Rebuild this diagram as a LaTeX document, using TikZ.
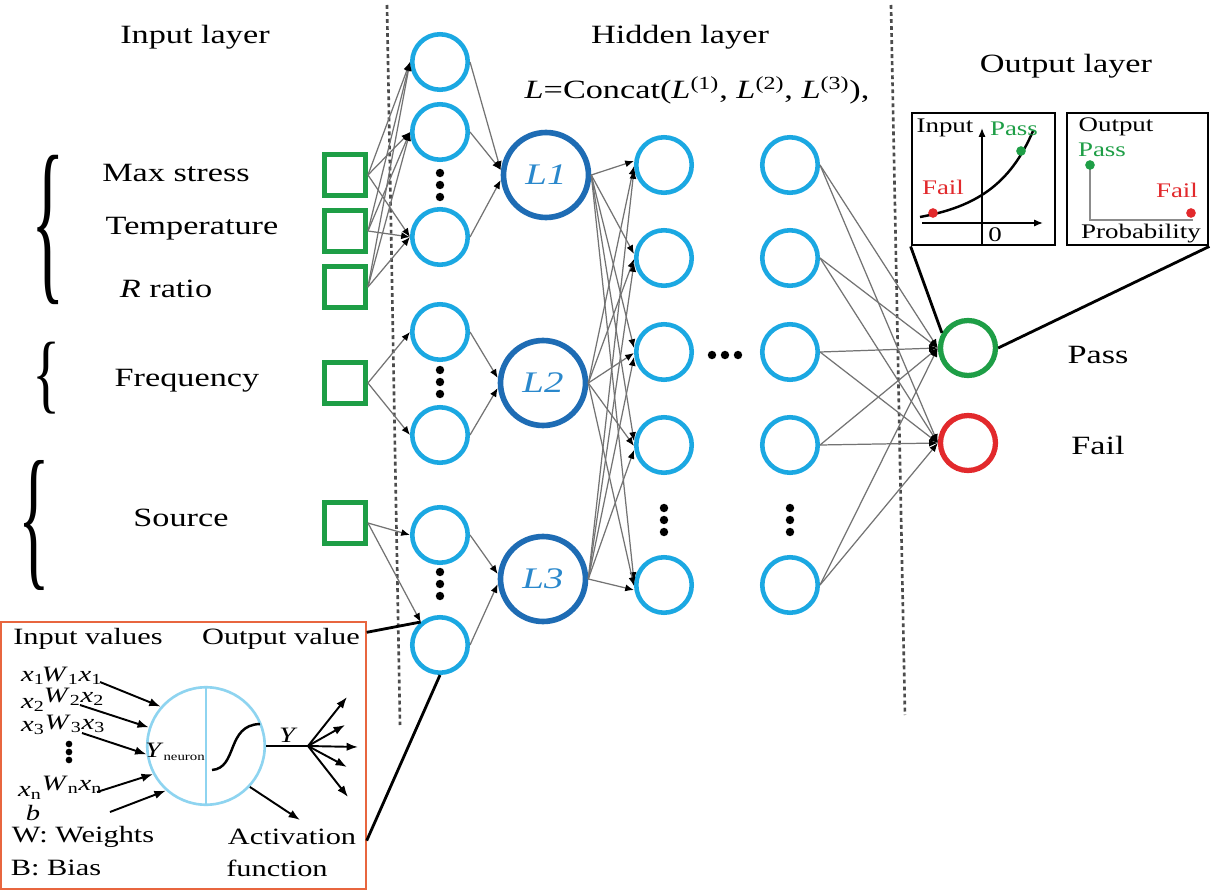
\documentclass[tikz,border=0pt]{standalone}
\usepackage{fontspec}
\usepackage{graphicx}
\setmainfont{Liberation Serif}[FakeStretch=1.3]
\usetikzlibrary{arrows.meta,calc}
\definecolor{cy}{HTML}{1BA8E2}
\definecolor{db}{HTML}{1E6CB4}
\definecolor{gr}{HTML}{1E9E46}
\definecolor{rd}{HTML}{E2292C}
\definecolor{lb}{HTML}{2A88CC}
\definecolor{ib}{HTML}{8ED4F0}
\definecolor{ob}{HTML}{E8663F}
\newcommand\fsz[1]{\fontsize{#1}{#1}\selectfont}
\begin{document}
\begin{tikzpicture}[x=0.02cm,y=-0.02cm,
 hc/.style={circle,draw=cy,line width=2.6pt,minimum size=1.11cm,inner sep=0pt},
 lc/.style={circle,draw=db,line width=3.2pt,minimum size=1.7cm,inner sep=0pt,font=\fsz{17}\itshape,text=lb},
 sq/.style={rectangle,draw=gr,line width=2.8pt,minimum size=0.82cm,inner sep=0pt},
 oc/.style={circle,line width=3pt,minimum size=1.1cm,inner sep=0pt},
 cn/.style={draw=black!55,line width=0.7pt,-{Latex[length=5pt,width=4pt,color=black]}},
 ttl/.style={font=\fsz{15}},
 lab/.style={font=\fsz{15}},
 ins/.style={font=\fsz{13.3}},
 sm/.style={font=\fsz{12.5},inner sep=0pt},
 tiny/.style={font=\fsz{11.8},inner sep=0pt},
 dv/.style={draw=black!70,line width=1.5pt,dash pattern=on 2.2pt off 1.8pt},
 dotc/.style={circle,fill=black,inner sep=0pt,minimum size=4.8pt},
 blk/.style={draw=black,line width=1.6pt},
 arw/.style={draw=black,line width=1.1pt,-{Latex[length=6.5pt,width=4.8pt]}},
 brc/.style={inner sep=0pt}
]
\useasboundingbox (0,0) rectangle (1215,892);
\fill[white] (0,0) rectangle (1215,892);

% dashed separators
\coordinate (da1) at (387,5); \coordinate (da2) at (400,725);
\coordinate (db1) at (891,5); \coordinate (db2) at (905,715);
\draw[dv] (da1) -- (da2);
\draw[dv] (db1) -- (db2);

% titles
\node[ttl] (tin) at (195,37) {Input layer};
\node[ttl] (thid) at (680,37) {Hidden layer};
\node[ttl] (tcat) at (697,90) {\textit{L}=Concat(\textit{L}\textsuperscript{(1)}, \textit{L}\textsuperscript{(2)}, \textit{L}\textsuperscript{(3)}),};
\node[ttl] (tout) at (1066,66) {Output layer};

% braces
\node[brc] (br1) at (48,230) {\resizebox*{19pt}{85pt}{\{}};
\node[brc] (br2) at (47,378) {\resizebox*{16pt}{41pt}{\{}};
\node[brc] (br3) at (34,525) {\resizebox*{18pt}{74pt}{\{}};

% input labels
\node[lab] (lms) at (176,173) {Max stress};
\node[lab] (ltp) at (192,229) {Temperature};
\node[lab] (lrr) at (166,289) {\textit{R} ratio};
\node[lab] (lfq) at (187,381) {Frequency};
\node[lab] (lsr) at (181,518) {Source};

% input squares
\node[sq] (s1) at (345,175) {};
\node[sq] (s2) at (345,231) {};
\node[sq] (s3) at (345,287) {};
\node[sq] (s4) at (345,383) {};
\node[sq] (s5) at (345,523) {};

% first hidden column
\node[hc] (c1) at (440,62) {};
\node[hc] (c2) at (440,132) {};
\node[hc] (c3) at (440,237) {};
\node[hc] (c4) at (440,332) {};
\node[hc] (c5) at (440,435) {};
\node[hc] (c6) at (440,535) {};
\node[hc] (c7) at (440,645) {};
\foreach \yy [count=\k] in {173,185,197} \node[dotc] (pa\k) at (440,\yy) {};
\foreach \yy [count=\k] in {370,382,394} \node[dotc] (pb\k) at (440,\yy) {};
\foreach \yy [count=\k] in {572,584,596} \node[dotc] (pc\k) at (440,\yy) {};

% L nodes
\node[lc] (L1) at (546,175) {L1};
\node[lc] (L2) at (543,383) {L2};
\node[lc] (L3) at (543,579) {L3};

% second and third hidden columns
\foreach \yy [count=\k] in {165,258,352,445,585} {
  \node[hc] (d\k) at (664,\yy) {};
  \node[hc] (e\k) at (790,\yy) {};
}
\foreach \yy [count=\k] in {508,520,532} {
  \node[dotc] (pd\k) at (664,\yy) {};
  \node[dotc] (pe\k) at (790,\yy) {};
}
\foreach \xx [count=\k] in {712,725,738} \node[dotc] (ph\k) at (\xx,355) {};

% outputs
\node[oc,draw=gr] (op) at (968,348) {};
\node[oc,draw=rd] (of) at (968,443) {};
\node[lab] (lpass) at (1098,355) {Pass};
\node[lab] (lfail) at (1098,445) {Fail};

% connections input -> col1
\foreach \s in {s1,s2,s3} \foreach \c in {c1,c2,c3} \draw[cn] (\s.east) -- (\c.west);
\draw[cn] (s4.east) -- (c4.west);
\draw[cn] (s4.east) -- (c5.west);
\draw[cn] (s5.east) -- (c6.west);
\draw[cn] (s5.east) -- (c7.130);

% col1 -> L
\draw[cn] (c1.east) -- ($(L1.west)+(0,-5)$);
\draw[cn] (c2.east) -- ($(L1.west)+(0,-5)$);
\draw[cn] (c3.east) -- ($(L1.west)+(0,5)$);
\draw[cn] (c4.east) -- ($(L2.west)+(0,-5)$);
\draw[cn] (c5.east) -- ($(L2.west)+(0,5)$);
\draw[cn] (c6.east) -- ($(L3.west)+(0,-5)$);
\draw[cn] (c7.east) -- ($(L3.west)+(0,5)$);

% L -> col2
\foreach \k in {1,...,5} {
  \draw[cn] (L1.east) -- ($(d\k.west)+(0,-4)$);
  \draw[cn] (L2.east) -- ($(d\k.west)+(0,1)$);
  \draw[cn] (L3.east) -- ($(d\k.west)+(0,5)$);
}

% col3 -> outputs
\foreach \k in {1,...,5} {
  \draw[cn] (e\k.east) -- (op.west);
  \draw[cn] (e\k.east) -- (of.west);
}

% output insets
\node[draw=black,line width=1.6pt,minimum width=2.86cm,minimum height=2.64cm,inner sep=0pt] (ib1) at (983.5,179) {};
\node[draw=black,line width=1.6pt,minimum width=2.82cm,minimum height=2.64cm,inner sep=0pt] (ib2) at (1137.5,179) {};
\draw[blk] (ib1.south west) -- (op.150);
\draw[blk] (ib2.south east) -- (op.east);

\coordinate (ax0) at (982,245); \coordinate (ax1) at (982,128);
\coordinate (ay0) at (922,223); \coordinate (ay1) at (1043,223);
\draw[black,line width=0.8pt,-{Latex[length=5pt,width=4pt]}] (ax0) -- (ax1);
\draw[black,line width=0.8pt,-{Latex[length=5pt,width=4pt]}] (ay0) -- (ay1);
\coordinate (cv0) at (920,217); \coordinate (cv1) at (1033,131);
\draw[black,line width=1.4pt] (cv0) .. controls (975,207) and (1010,185) .. (cv1);
\node[circle,fill=rd,inner sep=0pt,minimum size=5.5pt] (rdot1) at (933,213) {};
\node[circle,fill=gr,inner sep=0pt,minimum size=5.5pt] (gdot1) at (1021,151) {};
\node[tiny] (t1in) at (945,128) {Input};
\node[tiny,text=gr] (t1ps) at (1014,129) {Pass};
\node[tiny,text=rd] (t1fl) at (943,187) {Fail};
\node[tiny] (t10) at (995,235) {0};

\coordinate (pv0) at (1090,165); \coordinate (pv1) at (1090,220); \coordinate (pv2) at (1193,220);
\draw[black!45,line width=1pt] (pv0) -- (pv1) -- (pv2);
\node[circle,fill=gr,inner sep=0pt,minimum size=5.5pt] (gdot2) at (1090,165) {};
\node[circle,fill=rd,inner sep=0pt,minimum size=5.5pt] (rdot2) at (1191,213) {};
\node[tiny] (t2out) at (1116,127) {Output};
\node[tiny,text=gr] (t2ps) at (1102,150) {Pass};
\node[tiny,text=rd] (t2fl) at (1177,190) {Fail};
\node[tiny] (t2pr) at (1141,234) {Probability};

% neuron inset
\node[draw=ob,line width=0.8pt,minimum width=7.3cm,minimum height=5.34cm,inner sep=0pt] (ibx) at (183.5,755.5) {};
\node[ins] (tiv) at (88,639) {Input values};
\node[ins] (tov) at (281,639) {Output value};
\node[ins] (tww) at (83,837) {W: Weights};
\node[ins] (tbb) at (56,868) {B: Bias};
\node[ins] (tac) at (292,837) {Activation};
\node[ins] (tfn) at (277,868) {function};
\draw[blk] ($(ibx.north east)+(0,11)$) -- (c7.130);
\draw[blk] ($(ibx.south east)+(0,-49)$) -- (c7.south);

\node[circle,draw=ib,line width=1.5pt,minimum size=2.35cm,inner sep=0pt] (nrn) at (206,746) {};
\draw[ib,line width=1.5pt] (nrn.north) -- (nrn.south);
\coordinate (sg0) at (212,770); \coordinate (sg1) at (260,724);
\draw[black,line width=1.4pt] (sg0) .. controls (238,768) and (226,725) .. (sg1);
\node[font=\fsz{12.5},anchor=east,inner sep=0pt] (ynr) at (206,752) {\textit{Y}\textsubscript{\fsz{6.5}neuron}};

\node[sm] (x1) at (33,678) {\textit{x}\textsubscript{1}};
\node[sm] (w1) at (72,676) {\textit{W}\textsubscript{1}\textit{x}\textsubscript{1}};
\node[sm] (w2) at (74,697) {\textit{W}\textsubscript{2}\textit{x}\textsubscript{2}};
\node[sm] (x2) at (33,705) {\textit{x}\textsubscript{2}};
\node[sm] (x3) at (33,728) {\textit{x}\textsubscript{3}};
\node[sm] (w3) at (75,724) {\textit{W}\textsubscript{3}\textit{x}\textsubscript{3}};
\foreach \yy [count=\k] in {744,752,760} \node[circle,fill=black,inner sep=0pt,minimum size=3.8pt] (pi\k) at (69,\yy) {};
\node[sm] (xn) at (30,793) {\textit{x}\textsubscript{n}};
\node[sm] (wn) at (72,785) {\textit{W}\textsubscript{n}\textit{x}\textsubscript{n}};
\node[sm] (bb) at (33,813) {\textit{b}};

\coordinate (ia1) at (100,682);
\coordinate (ia2) at (80,705);
\coordinate (ia3) at (82,733);
\coordinate (ia4) at (97,792);
\coordinate (ia5) at (110,812);
\draw[arw] (ia1) -- (nrn.139);
\draw[arw] (ia2) -- (nrn.162);
\draw[arw] (ia3) -- (nrn.188);
\draw[arw] (ia4) -- (nrn.208);
\draw[arw] (ia5) -- (nrn.228);
\coordinate (act) at (300,820);
\draw[arw] (nrn.-43) -- (act);

\coordinate (yb) at (308,746);
\draw[black,line width=1.1pt] (nrn.east) -- (yb);
\node[font=\fsz{12.5}\itshape,inner sep=0pt] (ylab) at (287,735) {Y};
\coordinate (yo1) at (347,697);
\coordinate (yo2) at (345,725);
\coordinate (yo3) at (358,747);
\coordinate (yo4) at (347,767);
\coordinate (yo5) at (348,797);
\foreach \k in {1,...,5} \draw[arw] (yb) -- (yo\k);
\end{tikzpicture}
\end{document}
